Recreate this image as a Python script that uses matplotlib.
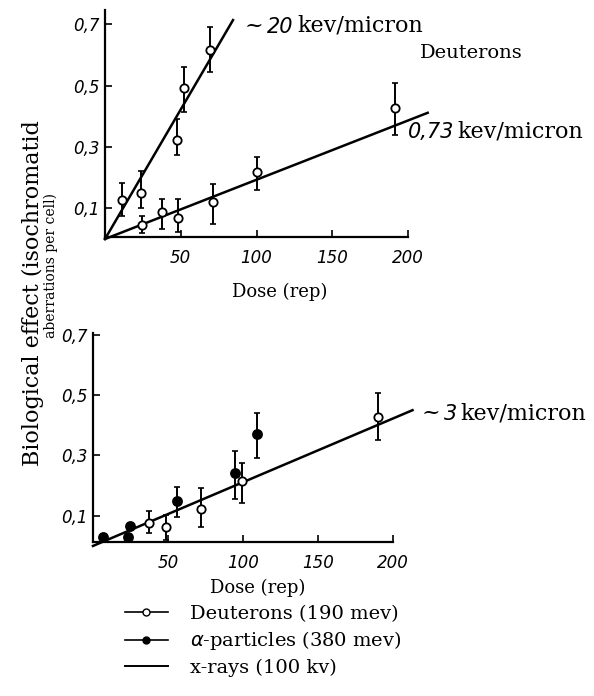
import matplotlib

matplotlib.use("Agg")
import matplotlib.pyplot as plt
from matplotlib.lines import Line2D

# top panel: deuterons, two LET values
hi_dose = [11, 24, 47.5, 52, 69]
hi_eff = [0.127, 0.15, 0.322, 0.492, 0.616]
hi_lo = [0.075, 0.101, 0.274, 0.414, 0.544]
hi_hi = [0.182, 0.221, 0.391, 0.56, 0.69]

lo_dose = [24.4, 37.6, 48.2, 71.3, 100.3, 191.4]
lo_eff = [0.046, 0.088, 0.068, 0.12, 0.218, 0.427]
lo_lo = [0.02, 0.033, 0.023, 0.049, 0.16, 0.339]
lo_hi = [0.075, 0.13, 0.13, 0.179, 0.267, 0.508]

hi_slope = 0.00844
lo_slope = 0.00193
hi_end = 84.5
lo_end = 213

# bottom panel: deuterons (open), alpha particles (filled), x-rays (line)
deu_dose = [37.3, 48.7, 72, 99.3, 190]
deu_eff = [0.076, 0.063, 0.123, 0.215, 0.427]
deu_lo = [0.043, 0.02, 0.063, 0.142, 0.351]
deu_hi = [0.116, 0.103, 0.192, 0.275, 0.507]

alpha_dose = [6.7, 23.3, 24.7, 56, 94.7, 109.3]
alpha_eff = [0.03, 0.03, 0.066, 0.149, 0.242, 0.371]
alpha_lo = [None, None, None, 0.096, 0.156, 0.291]
alpha_hi = [None, None, None, 0.195, 0.315, 0.44]

xray_slope = 0.00211
xray_end = 213

yticks = [0.1, 0.3, 0.5, 0.7]
ytick_labels = ["0,1", "0,3", "0,5", "0,7"]
xticks = [50, 100, 150, 200]

SERIF = "DejaVu Serif"
W, H = 594, 696
fig = plt.figure(figsize=(W / 100, H / 100), dpi=100)


def px_axes(left, top, right, bottom):
    return fig.add_axes([left / W, 1 - bottom / H, (right - left) / W, (bottom - top) / H])


def style_axes(ax, ylim, label_xy):
    ax.set_xlim(0, 200)
    ax.set_ylim(*ylim)
    for side in ("top", "right"):
        ax.spines[side].set_visible(False)
    for side in ("left", "bottom"):
        ax.spines[side].set_linewidth(1.6)
    ax.set_xticks(xticks)
    ax.set_yticks(yticks)
    ax.set_yticklabels(ytick_labels)
    ax.tick_params(direction="in", length=5, width=1.2)
    ax.tick_params(axis="x", pad=9)
    ax.tick_params(axis="y", pad=4)
    for lab in ax.get_xticklabels() + ax.get_yticklabels():
        lab.set_fontfamily("DejaVu Sans")
        lab.set_fontstyle("italic")
        lab.set_fontsize(12)
    ax.set_xlabel("Dose (rep)", family=SERIF, fontsize=13, va="center")
    ax.xaxis.set_label_coords(*label_xy)


def err_points(ax, xs, ys, los, his, filled):
    for x, y, lo, hi in zip(xs, ys, los, his):
        if lo is not None:
            ax.errorbar([x], [y], yerr=[[y - lo], [hi - y]], fmt="none", ecolor="black",
                        elinewidth=1.4, capsize=2.5, capthick=1.2, clip_on=False)
    ax.plot(xs, ys, "o", ms=6.5 if filled else 6, mfc="black" if filled else "white",
            mec="black", mew=1.3, clip_on=False, zorder=5)


def chain_text(x, y, parts):
    # pieces in different fonts, each placed right after the previous one
    s, kw = parts[0]
    prev = fig.text(x / W, 1 - y / H, s, va="baseline", ha="left", **kw)
    for s, kw in parts[1:]:
        prev = plt.annotate(s, xy=(1, 0), xycoords=prev, xytext=(2.5, 0),
                            textcoords="offset points", va="bottom", ha="left",
                            annotation_clip=False, **kw)
    return prev


ital = dict(family="DejaVu Sans", style="italic", fontsize=15)
ser = dict(family=SERIF, fontsize=16)

# top panel
ax1 = px_axes(105, 10, 408, 237)
style_axes(ax1, (0.0065, 0.746), (0.578, -0.24))
ax1.plot([0, hi_end], [0, hi_slope * hi_end], color="black", lw=1.8, clip_on=False)
ax1.plot([0, lo_end], [0, lo_slope * lo_end], color="black", lw=1.8, clip_on=False)
err_points(ax1, hi_dose, hi_eff, hi_lo, hi_hi, False)
err_points(ax1, lo_dose, lo_eff, lo_lo, lo_hi, False)

# bottom panel
ax2 = px_axes(93, 333, 393, 542)
style_axes(ax2, (0.013, 0.705), (0.55, -0.22))
ax2.plot([0, xray_end], [0, xray_slope * xray_end], color="black", lw=1.8, clip_on=False)
err_points(ax2, deu_dose, deu_eff, deu_lo, deu_hi, False)
err_points(ax2, alpha_dose, alpha_eff, alpha_lo, alpha_hi, True)

# curve annotations
chain_text(245, 32, [("~", ser), ("20", ital), ("kev/micron", ser)])
fig.text(420 / W, 1 - 58 / H, "Deuterons", family=SERIF, fontsize=14, va="baseline")
chain_text(408, 138, [("0,73", ital), ("kev/micron", ser)])
chain_text(422, 419, [("~", ser), ("3", ital), ("kev/micron", ser)])

# y label, two lines
fig.text(33 / W, 1 - 293 / H, "Biological effect (isochromatid", family=SERIF, fontsize=16,
         rotation=90, ha="center", va="center")
fig.text(51 / W, 1 - 266 / H, "aberrations per cell)", family=SERIF, fontsize=10,
         rotation=90, ha="center", va="center")

# legend
handles = [
    Line2D([], [], color="black", lw=1.2, marker="o", ms=5, mfc="white", mec="black"),
    Line2D([], [], color="black", lw=1.2, marker="o", ms=5, mfc="black", mec="black"),
    Line2D([], [], color="black", lw=1.4),
]
labels = ["Deuterons (190 mev)", r"$\alpha$-particles (380 mev)", "x-rays (100 kv)"]
fig.legend(handles, labels, loc="upper left", bbox_to_anchor=(125 / W, 1 - 605 / H),
           frameon=False, prop=dict(family=SERIF, size=14), handlelength=2.2,
           handletextpad=1.15, labelspacing=0.33, borderaxespad=0, borderpad=0)

fig.savefig("out.png", dpi=100)
